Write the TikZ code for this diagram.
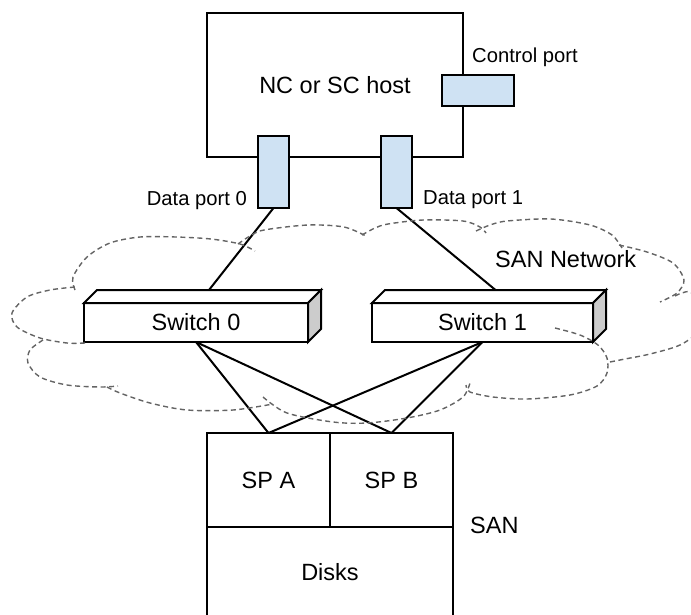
\documentclass[tikz,border=0pt]{standalone}
\usepackage{fontspec}
\setmainfont{Liberation Sans}
\usepackage{xcolor}
\definecolor{portblue}{RGB}{207,226,243}
\definecolor{sidegray}{RGB}{204,204,204}
\definecolor{cloudgray}{RGB}{100,100,100}
\tikzstyle{box}=[draw, line width=2pt, fill=white, outer sep=0pt, font=\fontsize{23.5pt}{28pt}\selectfont]
\tikzstyle{port}=[draw, line width=2pt, fill=portblue, outer sep=0pt]
\tikzset{tag/.style={inner sep=0pt, font=\fontsize{20.2pt}{24pt}\selectfont}}
\tikzset{bigtag/.style={inner sep=0pt, font=\fontsize{23.5pt}{28pt}\selectfont}}
\tikzset{face/.style={draw, line width=2pt, fill=white}}
\tikzset{wire/.style={line width=2pt}}
\tikzset{haze/.style={draw=cloudgray, line width=1.4pt, dash pattern=on 5pt off 3.5pt}}

\begin{document}
\begin{tikzpicture}[x=1pt,y=-1pt]
  \useasboundingbox (0,0) rectangle (691,614);
  \clip (0,0) rectangle (691,614);

  %% Host and its ports
  \draw (335,85) node[box, minimum width=256pt, minimum height=144pt] (host) {NC or SC host};
  \draw (478,90.5) node[port, minimum width=72pt, minimum height=31pt] (ctrl) {};
  \draw (273.5,172) node[port, minimum width=31pt, minimum height=72pt] (dp0) {};
  \draw (396.5,172) node[port, minimum width=31pt, minimum height=72pt] (dp1) {};
  \draw (472,62) node[tag, anchor=base west] (ctrltext) {Control port};
  \draw (247,205) node[tag, anchor=base east] (dp0text) {Data port 0};
  \draw (423,204) node[tag, anchor=base west] (dp1text) {Data port 1};

  %% Switches
  \draw (196,322.5) node[box, minimum width=224pt, minimum height=39pt] (sw0) {Switch 0};
  \draw[face] (sw0.north west) -- ++(13,-13) -- ++(224,0) -- (sw0.north east) -- cycle;
  \draw[face, fill=sidegray] (sw0.north east) -- ++(13,-13) -- ++(0,39) -- (sw0.south east) -- cycle;
  \coordinate (sw0top) at ([shift={(13,-13)}]sw0.north);

  \draw (482.5,322.5) node[box, minimum width=221pt, minimum height=39pt] (sw1) {Switch 1};
  \draw[face] (sw1.north west) -- ++(13,-13) -- ++(221,0) -- (sw1.north east) -- cycle;
  \draw[face, fill=sidegray] (sw1.north east) -- ++(13,-13) -- ++(0,39) -- (sw1.south east) -- cycle;
  \coordinate (sw1top) at ([shift={(13,-13)}]sw1.north);

  %% SAN
  \draw (268.5,480) node[box, minimum width=123pt, minimum height=94pt] (spa) {SP A};
  \draw (391.5,480) node[box, minimum width=123pt, minimum height=94pt] (spb) {SP B};
  \draw (330,572) node[box, minimum width=246pt, minimum height=90pt] (disks) {Disks};
  \draw (470,533) node[bigtag, anchor=base west] (santext) {SAN};

  %% Links
  \draw[wire] (dp0.south) -- (sw0top);
  \draw[wire] (dp1.south) -- (sw1top);
  \draw[wire] (sw0.south) -- (spa.north);
  \draw[wire] (sw0.south) -- (spb.north);
  \draw[wire] (sw1.south) -- (spa.north);
  \draw[wire] (sw1.south) -- (spb.north);

  %% SAN Network cloud
  \draw[haze] plot[smooth] coordinates {(75,290) (73,277) (87,257) (110,243) (140,237) (176,237) (211,239) (240,244) (255,251)};
  \draw[haze] plot[smooth] coordinates {(238,244) (250,236) (264,230) (308,225) (344,227) (366,236)};
  \draw[haze] plot[smooth] coordinates {(362,235) (375,228) (388,224) (423,220) (463,221) (480,227) (486,233)};
  \draw[haze] plot[smooth] coordinates {(476,231) (490,225) (507,221) (551,219) (590,225) (612,235) (622,248)};
  \draw[haze] plot[smooth] coordinates {(619,245) (647,252) (673,263) (684,280) (677,293) (660,302)};
  \draw[haze] plot[smooth] coordinates {(675,296) (690,292) (705,310) (700,330) (680,345) (650,354) (625,359) (610,362)};
  \draw[haze] plot[smooth] coordinates {(555,328) (580,335) (598,345) (607,358) (607,373) (597,386) (570,395) (527,399) (493,397) (470,392) (466,385)};
  \draw[haze] plot[smooth] coordinates {(263,397) (287,413) (333,422) (367,423) (407,418) (440,410) (463,397) (470,383)};
  \draw[haze] plot[smooth] coordinates {(107,387) (120,393) (150,403) (187,410) (233,410) (273,404)};
  \draw[haze] plot[smooth] coordinates {(43,340) (30,350) (28,363) (40,377) (67,385) (100,387) (118,386)};
  \draw[haze] plot[smooth] coordinates {(85,343) (67,343) (40,338) (17,327) (12,313) (27,297) (50,290) (75,287)};
  \draw (495,267) node[bigtag, anchor=base west] (sannet) {SAN Network};
\end{tikzpicture}
\end{document}
